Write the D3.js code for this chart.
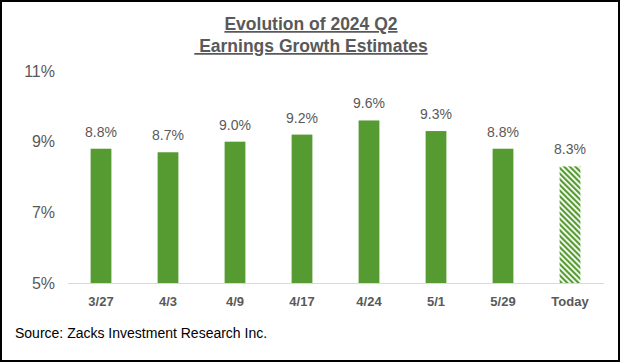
<!DOCTYPE html>
<html>
<head>
<meta charset="utf-8">
<script src="https://cdn.jsdelivr.net/npm/d3@7"></script>
<style>
  body { margin: 0; background: #fff; }
  svg { display: block; font-family: 'Liberation Sans', Arial, sans-serif; }
</style>
</head>
<body>
<script>
// chart data
var categories = ['3/27', '4/3', '4/9', '4/17', '4/24', '5/1', '5/29', 'Today']
var values = [8.8, 8.7, 9.0, 9.2, 9.6, 9.3, 8.8, 8.3]
var yTicks = [5, 7, 9, 11]
var titleLines = ['Evolution of 2024 Q2', '\u00a0Earnings Growth Estimates']
var sourceText = 'Source: Zacks Investment Research Inc.'

var W = 620
var H = 362
var green = '#569b31'
var grey = '#595959'

var svg = d3.select('body').append('svg')
            .attr('width', W)
            .attr('height', H)

// hatch pattern for the estimate bar (stripes running down to the right)
var pat = svg.append('defs').append('pattern')
             .attr('id', 'hatch')
             .attr('patternUnits', 'userSpaceOnUse')
             .attr('width', 4)
             .attr('height', 4)
             .attr('patternTransform', 'rotate(-45)')
pat.append('rect').attr('width', 4).attr('height', 4).attr('fill', '#fff')
pat.append('rect').attr('width', 2.2).attr('height', 4).attr('fill', green)

// frame
svg.append('rect')
   .attr('x', 1).attr('y', 1)
   .attr('width', W - 2).attr('height', H - 2)
   .attr('fill', '#fff')
   .attr('stroke', '#000')
   .attr('stroke-width', 2)

// title
svg.append('g')
   .selectAll('text')
   .data(titleLines)
   .enter()
   .append('text')
   .attr('x', 311)
   .attr('y', function (d, i) { return 30 + i * 22 })
   .attr('text-anchor', 'middle')
   .attr('font-size', 17.5)
   .attr('font-weight', 'bold')
   .attr('fill', grey)
   .attr('text-decoration', 'underline')
   .text(function (d) { return d })

var x = d3.scaleBand()
          .domain(categories)
          .range([67.5, 603.5])
          .paddingInner(0.69)
          .paddingOuter(0.345)

var y = d3.scaleLinear()
          .domain([5, 11])
          .range([283, 71])

// y axis labels
var yAxis = svg.append('g')
               .attr('transform', 'translate(55,0)')
               .call(d3.axisLeft(y)
                       .tickValues(yTicks)
                       .tickSize(0)
                       .tickPadding(0)
                       .tickFormat(function (d) { return d + '%' }))
yAxis.select('.domain').remove()
yAxis.selectAll('text')
     .attr('font-size', 16)
     .attr('fill', grey)
     .attr('font-family', null)

// bars
svg.append('g')
   .selectAll('rect')
   .data(values)
   .enter()
   .append('rect')
   .attr('x', function (d, i) { return x(categories[i]) })
   .attr('y', function (d) { return y(d) })
   .attr('width', x.bandwidth())
   .attr('height', function (d) { return y(5) - y(d) })
   .attr('fill', function (d, i) {
     return categories[i] === 'Today' ? 'url(#hatch)' : green
   })

// value labels
svg.append('g')
   .selectAll('text')
   .data(values)
   .enter()
   .append('text')
   .attr('x', function (d, i) { return x(categories[i]) + x.bandwidth() / 2 })
   .attr('y', function (d) { return y(d) - 12 })
   .attr('text-anchor', 'middle')
   .attr('font-size', 14)
   .attr('fill', grey)
   .text(function (d) { return d.toFixed(1) + '%' })

// x axis
var xAxis = svg.append('g')
               .attr('transform', 'translate(0,' + y(5) + ')')
               .call(d3.axisBottom(x).tickSize(0).tickPadding(14))
xAxis.select('.domain')
     .attr('stroke', '#d9d9d9')
     .attr('stroke-width', 1.2)
xAxis.selectAll('text')
     .attr('font-size', 13)
     .attr('font-weight', 'bold')
     .attr('fill', grey)
     .attr('font-family', null)

// source
svg.append('text')
   .attr('x', 15)
   .attr('y', 338)
   .attr('font-size', 14)
   .attr('fill', '#000')
   .text(sourceText)
</script>
</body>
</html>
